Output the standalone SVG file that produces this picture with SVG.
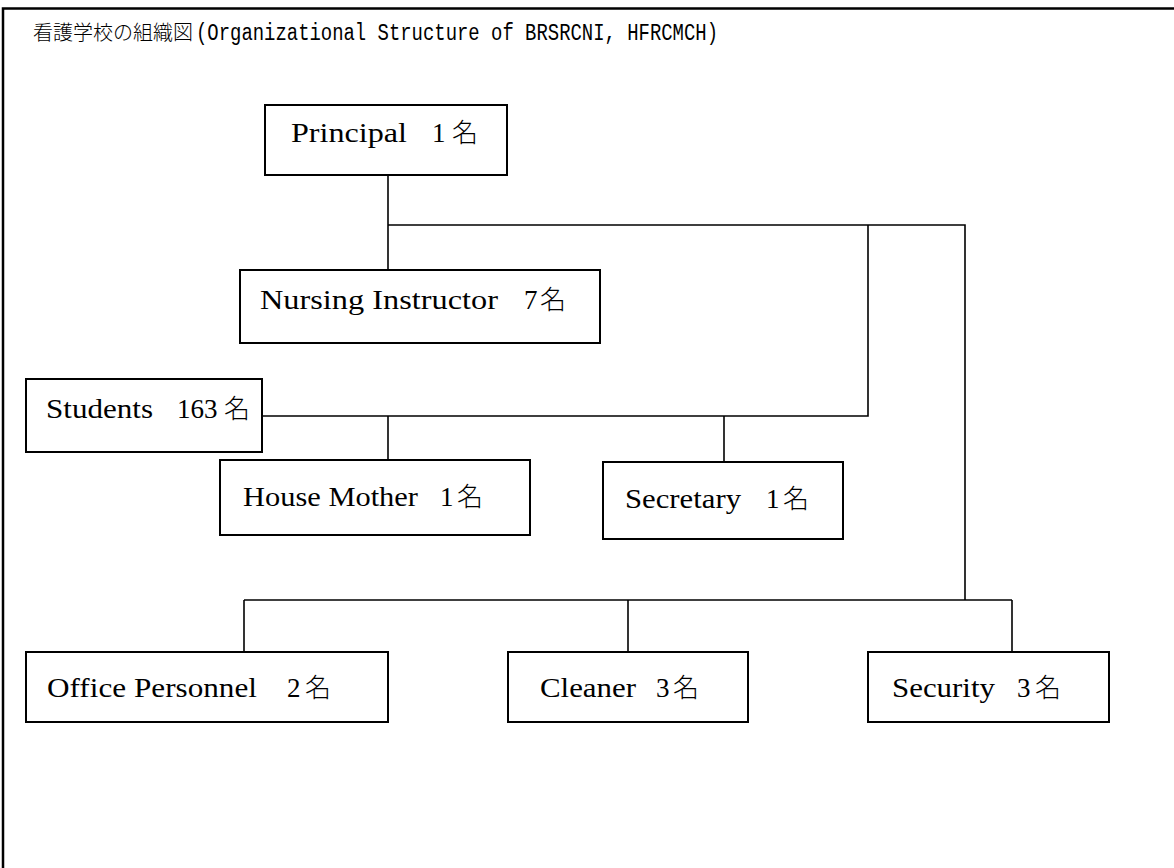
<svg xmlns="http://www.w3.org/2000/svg" width="1174" height="868" viewBox="0 0 1174 868">
<style>
.box{fill:#fff;stroke:#000;stroke-width:2}
.ln{fill:none;stroke:#000;stroke-width:1.6}
.frame{fill:none;stroke:#000;stroke-width:2.5}
.lbl{font-family:"Liberation Serif","Times New Roman",serif;font-size:27px;fill:#000}
.jp{font-family:"Noto Sans CJK JP","Noto Sans CJK SC",sans-serif;font-size:26px;font-weight:300}
.ttl{font-family:"Noto Sans CJK JP","Noto Sans CJK SC",sans-serif;font-size:20px;font-weight:300;fill:#000}
.mono{font-family:"Liberation Mono","Courier New",monospace;font-size:23px;font-weight:400}
</style>
<rect width="1174" height="868" fill="#fff"/>
<path class="frame" d="M3 868 V8.5 H1174"/>
<text class="ttl" y="40"><tspan x="33">看護学校の組織図</tspan><tspan class="mono" x="196" textLength="522" lengthAdjust="spacingAndGlyphs">(Organizational Structure of BRSRCNI, HFRCMCH)</tspan></text>
<g id="connectors">
<path class="ln" d="M388 175 V270"/>
<path class="ln" d="M388 225 H965 V600"/>
<path class="ln" d="M868 225 V416 H262"/>
<path class="ln" d="M388 416 V460"/>
<path class="ln" d="M724 416 V462"/>
<path class="ln" d="M244 600 H1012"/>
<path class="ln" d="M244 600 V652"/>
<path class="ln" d="M628 600 V652"/>
<path class="ln" d="M1012 600 V652"/>
</g>
<g id="principal">
<rect class="box" x="265" y="105" width="242" height="70"/>
<text class="lbl" y="142"><tspan x="291" textLength="116" lengthAdjust="spacingAndGlyphs">Principal</tspan><tspan x="432">1</tspan><tspan class="jp" x="452">名</tspan></text>
</g>
<g id="nursing">
<rect class="box" x="240" y="270" width="360" height="73"/>
<text class="lbl" y="309"><tspan x="260" textLength="238" lengthAdjust="spacingAndGlyphs">Nursing Instructor</tspan><tspan x="524">7</tspan><tspan class="jp" x="540">名</tspan></text>
</g>
<g id="students">
<rect class="box" x="26" y="379" width="236" height="73"/>
<text class="lbl" y="418"><tspan x="46" textLength="107" lengthAdjust="spacingAndGlyphs">Students</tspan><tspan x="177">163</tspan><tspan class="jp" x="224">名</tspan></text>
</g>
<g id="housemother">
<rect class="box" x="220" y="460" width="310" height="75"/>
<text class="lbl" y="506"><tspan x="243" textLength="175" lengthAdjust="spacingAndGlyphs">House Mother</tspan><tspan x="440">1</tspan><tspan class="jp" x="457">名</tspan></text>
</g>
<g id="secretary">
<rect class="box" x="603" y="462" width="240" height="77"/>
<text class="lbl" y="508"><tspan x="625" textLength="116" lengthAdjust="spacingAndGlyphs">Secretary</tspan><tspan x="766">1</tspan><tspan class="jp" x="783">名</tspan></text>
</g>
<g id="office">
<rect class="box" x="26" y="652" width="362" height="70"/>
<text class="lbl" y="697"><tspan x="47" textLength="210" lengthAdjust="spacingAndGlyphs">Office Personnel</tspan><tspan x="287">2</tspan><tspan class="jp" x="305">名</tspan></text>
</g>
<g id="cleaner">
<rect class="box" x="508" y="652" width="240" height="70"/>
<text class="lbl" y="697"><tspan x="540" textLength="96" lengthAdjust="spacingAndGlyphs">Cleaner</tspan><tspan x="656">3</tspan><tspan class="jp" x="673">名</tspan></text>
</g>
<g id="security">
<rect class="box" x="868" y="652" width="241" height="70"/>
<text class="lbl" y="697"><tspan x="892" textLength="103" lengthAdjust="spacingAndGlyphs">Security</tspan><tspan x="1017">3</tspan><tspan class="jp" x="1035">名</tspan></text>
</g>
</svg>
